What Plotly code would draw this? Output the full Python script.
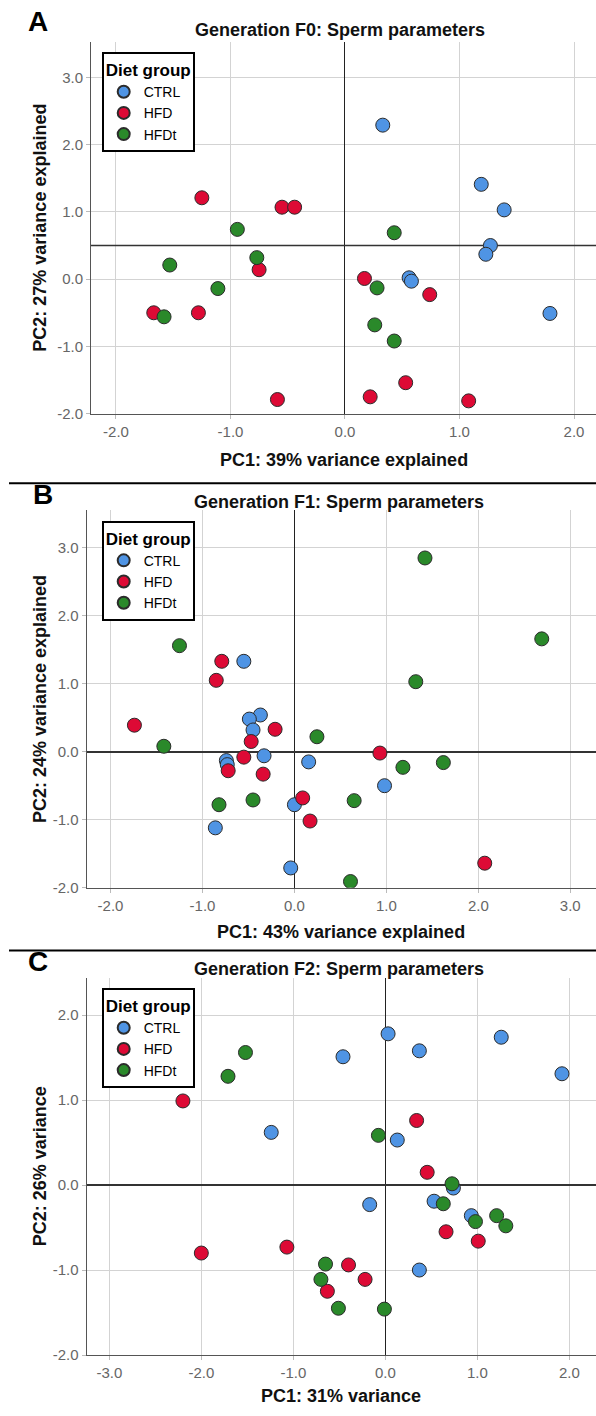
import plotly.graph_objects as go

# ---------------- data ----------------
groups = ["CTRL", "HFD", "HFDt"]
colors = {"CTRL": "#4F94E4", "HFD": "#DD0A35", "HFDt": "#2A892A"}

# Panel A: Generation F0
A_CTRL_x = [0.33, 1.19, 1.39, 1.27, 1.23, 0.56, 0.58, 1.79]
A_CTRL_y = [2.29, 1.41, 1.03, 0.50, 0.37, 0.02, -0.03, -0.51]
A_HFD_x = [-1.25, -0.55, -0.44, -0.75, -1.67, -1.28, 0.17, 0.74, -0.59, 0.22, 0.53, 1.08]
A_HFD_y = [1.21, 1.07, 1.07, 0.14, -0.50, -0.50, 0.01, -0.23, -1.79, -1.75, -1.54, -1.81]
A_HFDt_x = [-0.94, 0.43, -0.77, -1.53, -1.11, -1.58, 0.28, 0.26, 0.43]
A_HFDt_y = [0.74, 0.69, 0.32, 0.21, -0.14, -0.56, -0.13, -0.68, -0.92]

# Panel B: Generation F1
B_CTRL_x = [-0.55, -0.37, -0.49, -0.45, -0.74, -0.73, -0.33, 0.155, 0.98, 0.00, -0.86, -0.04]
B_CTRL_y = [1.33, 0.54, 0.48, 0.32, -0.13, -0.19, -0.06, -0.15, -0.50, -0.78, -1.12, -1.71]
B_HFD_x = [-0.79, -0.85, -1.74, -0.21, -0.47, -0.55, -0.72, -0.34, 0.93, 0.09, 0.17, 2.07]
B_HFD_y = [1.33, 1.05, 0.39, 0.33, 0.15, -0.08, -0.28, -0.33, -0.02, -0.68, -1.02, -1.64]
B_HFDt_x = [1.42, 2.69, -1.25, 1.32, -1.42, 0.245, 1.18, 1.62, -0.82, -0.45, 0.65, 0.61]
B_HFDt_y = [2.85, 1.66, 1.56, 1.03, 0.08, 0.22, -0.23, -0.16, -0.78, -0.71, -0.72, -1.91]

# Panel C: Generation F2
C_CTRL_x = [0.03, 0.37, -0.46, 1.26, 1.92, -1.24, 0.13, 0.74, -0.17, 0.53, 0.935, 0.37]
C_CTRL_y = [1.78, 1.58, 1.51, 1.74, 1.31, 0.62, 0.53, -0.035, -0.23, -0.19, -0.36, -1.00]
C_HFD_x = [-2.20, 0.34, 0.455, -2.00, -1.07, -0.40, -0.22, -0.63, 0.66, 1.01]
C_HFD_y = [0.99, 0.76, 0.15, -0.80, -0.73, -0.94, -1.11, -1.25, -0.55, -0.66]
C_HFDt_x = [-1.52, -1.71, -0.075, 0.725, 0.63, 0.98, 1.21, 1.31, -0.65, -0.70, -0.51, -0.01]
C_HFDt_y = [1.56, 1.28, 0.585, 0.015, -0.22, -0.43, -0.36, -0.48, -0.93, -1.11, -1.45, -1.46]

# ticks
A_xticks = [-2.0, -1.0, 0.0, 1.0, 2.0]
A_yticks = [-2.0, -1.0, 0.0, 1.0, 2.0, 3.0]
B_xticks = [-2.0, -1.0, 0.0, 1.0, 2.0, 3.0]
B_yticks = [-2.0, -1.0, 0.0, 1.0, 2.0, 3.0]
C_xticks = [-3.0, -2.0, -1.0, 0.0, 1.0, 2.0]
C_yticks = [-2.0, -1.0, 0.0, 1.0, 2.0]

# horizontal reference line value in each panel (vertical reference line is at x = 0)
A_href = 0.5
B_href = 0.0
C_href = 0.0

titles = ["Generation F0: Sperm parameters", "Generation F1: Sperm parameters",
          "Generation F2: Sperm parameters"]
xtitles = ["PC1: 39% variance explained", "PC1: 43% variance explained", "PC1: 31% variance"]
ytitles = ["PC2: 27% variance explained", "PC2: 24% variance explained", "PC2: 26% variance"]
letters = ["A", "B", "C"]

# ---------------- layout helpers ----------------
W, H = 596, 1416
FONT = "Liberation Sans, Arial, sans-serif"


def fx(p):
    return p / W


def fy(p):
    return 1 - p / H


def lab(v):
    return "%.1f" % v


panels = [
    dict(data={"CTRL": (A_CTRL_x, A_CTRL_y), "HFD": (A_HFD_x, A_HFD_y), "HFDt": (A_HFDt_x, A_HFDt_y)},
         left=91, top=42, bottom=416, xr=[-2.218, 2.192], yr=[-2.0, 3.53],
         xt=A_xticks, yt=A_yticks, href=A_href, tx=340, ty=30, lx=38, ly=22, xty=463),
    dict(data={"CTRL": (B_CTRL_x, B_CTRL_y), "HFD": (B_HFD_x, B_HFD_y), "HFDt": (B_HFDt_x, B_HFDt_y)},
         left=86.6, top=513.3, bottom=892.7, xr=[-2.26, 3.28], yr=[-2.0, 3.55],
         xt=B_xticks, yt=B_yticks, href=B_href, tx=339, ty=505, lx=43, ly=497, xty=937),
    dict(data={"CTRL": (C_CTRL_x, C_CTRL_y), "HFD": (C_HFD_x, C_HFD_y), "HFDt": (C_HFDt_x, C_HFDt_y)},
         left=86.6, top=983.3, bottom=1362.7, xr=[-3.247, 2.29], yr=[-2.0, 2.44],
         xt=C_xticks, yt=C_yticks, href=C_href, tx=339, ty=975, lx=38, ly=967, xty=1404),
]

fig = go.Figure()
layout = dict(width=W, height=H, margin=dict(l=0, r=0, t=0, b=0),
              paper_bgcolor="white", plot_bgcolor="white",
              font=dict(family=FONT, color="black"), showlegend=True)
annotations = []
shapes = []

for i, p in enumerate(panels):
    n = "" if i == 0 else str(i + 1)
    xa, ya = "x" + n, "y" + n
    leg = "legend" + n
    # horizontal reference line (when not at 0) drawn under the markers
    if p["href"] != 0:
        fig.add_trace(go.Scatter(
            x=p["xr"], y=[p["href"], p["href"]], mode="lines", xaxis=xa, yaxis=ya,
            line=dict(color="#333333", width=1.4), showlegend=False, hoverinfo="skip",
            cliponaxis=True))
    for g in groups:
        xs, ys = p["data"][g]
        fig.add_trace(go.Scatter(
            x=xs, y=ys, mode="markers", name=g, xaxis=xa, yaxis=ya, legend=leg,
            marker=dict(size=14, color=colors[g], line=dict(width=1, color="#2b2b2b")),
            hoverinfo="x+y+name"))
    axcommon = dict(showgrid=True, gridcolor="#d3d3d3", gridwidth=1,
                    showline=True, linecolor="#555555", linewidth=1,
                    ticks="outside", ticklen=4, tickcolor="#bbbbbb",
                    tickfont=dict(size=15, color="#666666", family=FONT), fixedrange=True)
    layout["xaxis" + n] = dict(axcommon, domain=[fx(p["left"]), 1.0], range=p["xr"],
                               tickvals=p["xt"], ticktext=[lab(v) for v in p["xt"]],
                               anchor=ya, zeroline=True, zerolinecolor="#222222", zerolinewidth=1.3)
    layout["yaxis" + n] = dict(axcommon, domain=[fy(p["bottom"]), fy(p["top"])], range=p["yr"],
                               tickvals=p["yt"], ticktext=[lab(v) for v in p["yt"]],
                               anchor=xa, zeroline=(p["href"] == 0), zerolinecolor="#333333",
                               zerolinewidth=1.6)
    layout[leg] = dict(x=fx(101.7), y=fy(p["top"] + 10.3), xanchor="left", yanchor="top",
                       xref="paper", yref="paper",
                       bgcolor="white", bordercolor="black", borderwidth=2,
                       title=dict(text="<b>Diet group</b>", font=dict(size=17, color="black", family=FONT)),
                       font=dict(size=14, color="black", family=FONT),
                       itemsizing="constant", tracegroupgap=0)
    # texts
    annotations.append(dict(text="<b>%s</b>" % titles[i], x=fx(p["tx"]), y=fy(p["ty"]),
                            xref="paper", yref="paper", showarrow=False, xanchor="center", yanchor="middle",
                            font=dict(size=18, color="#111111", family=FONT)))
    annotations.append(dict(text="<b>%s</b>" % letters[i], x=fx(p["lx"]), y=fy(p["ly"]),
                            xref="paper", yref="paper", showarrow=False, xanchor="center", yanchor="middle",
                            font=dict(size=28, color="black", family=FONT)))
    annotations.append(dict(text="<b>%s</b>" % xtitles[i], x=fx((p["left"] + W) / 2), y=fy(p["xty"]),
                            xref="paper", yref="paper", showarrow=False, xanchor="center", yanchor="middle",
                            font=dict(size=18, color="#111111", family=FONT)))
    annotations.append(dict(text="<b>%s</b>" % ytitles[i], x=fx(40), y=fy((p["top"] + p["bottom"]) / 2),
                            xref="paper", yref="paper", showarrow=False, xanchor="center", yanchor="middle",
                            textangle=-90, font=dict(size=18, color="#111111", family=FONT)))

# panel separators
for sy in [486, 956]:
    shapes.append(dict(type="line", xref="paper", yref="paper", x0=fx(9), x1=1.0, y0=fy(sy), y1=fy(sy),
                       line=dict(color="black", width=2)))

layout["annotations"] = annotations
layout["shapes"] = shapes
fig.update_layout(**layout)
fig.write_html("out.html")
